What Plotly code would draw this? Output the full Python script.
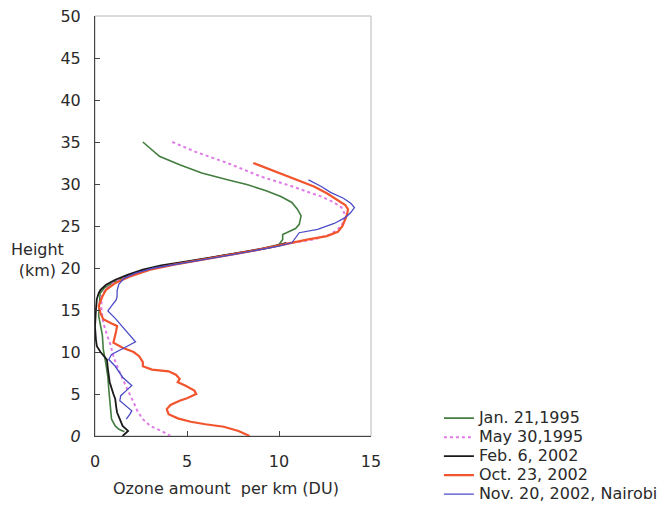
import plotly.graph_objects as go

# ---- data (ozone per km in DU, height in km) ----
jan1995_x = [2.6, 3.0, 3.5, 4.6, 5.8, 7.2, 8.3, 9.3, 10.1, 10.7, 11.0, 11.2, 11.1, 10.9, 10.5, 10.2, 10.2, 10.0,
             9.0, 7.8, 6.2, 4.6, 3.3, 2.3, 1.7, 1.0, 0.5, 0.28, 0.25, 0.2, 0.4, 0.45, 0.6, 0.7, 0.75, 0.8, 0.85,
             0.9, 1.1, 1.3, 1.6]
jan1995_h = [35.0, 34.2, 33.3, 32.3, 31.3, 30.5, 29.9, 29.2, 28.5, 27.8, 27.0, 26.2, 25.2, 24.7, 24.3, 24.0, 23.4, 22.8,
             22.3, 21.8, 21.2, 20.6, 20.1, 19.5, 19.0, 18.3, 17.6, 17.0, 16.0, 14.3, 12.0, 10.3, 8.5, 7.0, 5.5, 4.0, 3.0,
             2.0, 1.2, 0.8, 0.5]

may1995_x = [4.2, 5.5, 7.2, 9.0, 10.6, 12.3, 13.0, 13.4, 13.6, 13.5, 13.2, 12.8, 11.9, 10.4, 9.1, 7.9, 6.3, 4.7,
             3.3, 2.2, 1.5, 1.0, 0.6, 0.35, 0.35, 0.45, 0.65, 0.8, 1.0, 1.2, 1.45, 1.75, 2.1, 2.3, 2.6, 3.0, 3.6, 4.1]
may1995_h = [35.0, 33.8, 32.5, 30.9, 29.8, 28.5, 27.8, 27.2, 26.3, 25.4, 24.6, 24.0, 23.4, 22.9, 22.3, 21.8, 21.2, 20.6,
             20.0, 19.4, 18.8, 18.2, 17.5, 16.6, 15.0, 13.5, 12.0, 11.2, 9.5, 8.3, 7.0, 5.6, 4.0, 3.0, 2.0, 1.2, 0.6, 0.0]

feb2002_x = [10.4, 9.6, 8.4, 6.8, 5.0, 3.6, 2.6, 1.8, 1.1, 0.6, 0.3, 0.2, 0.1, 0.05, 0.0, 0.05, 0.1, 0.3, 0.5,
             0.65, 0.7, 0.8, 1.0, 1.1, 1.15, 1.2, 1.35, 1.5, 1.8, 1.6, 1.5]
feb2002_h = [23.0, 22.5, 22.0, 21.4, 20.8, 20.3, 19.8, 19.2, 18.6, 18.0, 17.4, 17.0, 16.3, 15.0, 13.0, 11.5, 10.7, 10.0, 9.5,
             9.1, 8.0, 6.4, 5.0, 4.4, 3.5, 2.8, 2.0, 1.2, 0.6, 0.2, 0.0]

oct2002_x = [8.6, 9.8, 11.0, 11.9, 12.6, 13.2, 13.6, 13.75, 13.7, 13.6, 13.45, 13.2, 12.6, 11.6, 10.7, 10.0, 8.7, 7.4,
             5.8, 4.3, 3.0, 1.9, 1.1, 0.6, 0.4, 0.2, 0.3, 0.45, 0.9, 1.2, 1.15, 1.1, 1.0, 1.5, 2.1, 2.4, 2.6, 2.6,
             3.1, 4.0, 4.4, 4.6, 4.5, 4.9, 5.4, 5.5, 5.0, 4.6, 4.1, 3.9, 4.0, 4.5, 5.2, 6.0, 7.0, 7.8, 8.4]
oct2002_h = [32.5, 31.5, 30.5, 29.7, 28.9, 28.1, 27.5, 27.0, 26.4, 25.8, 25.0, 24.3, 23.8, 23.4, 23.0, 22.6, 22.1, 21.6,
             21.0, 20.4, 19.8, 19.0, 18.2, 17.4, 16.6, 15.5, 14.6, 13.9, 13.4, 13.1, 12.5, 11.9, 11.1, 10.5, 10.0, 9.5, 8.8, 8.3,
             7.9, 7.7, 7.3, 6.8, 6.4, 6.0, 5.4, 5.0, 4.5, 4.2, 3.7, 3.2, 2.6, 2.1, 1.7, 1.4, 1.1, 0.6, 0.0]

nov2002_x = [11.6, 12.3, 12.8, 13.5, 13.9, 14.1, 13.9, 13.6, 13.0, 12.1, 11.1, 10.9, 10.7, 10.0, 8.8, 7.5, 5.9, 4.5,
             3.2, 2.2, 1.6, 1.3, 1.2, 1.2, 1.15, 0.9, 0.7, 1.1, 1.5, 1.9, 2.2, 1.6, 0.9, 0.75, 1.1, 1.5, 1.8, 2.0,
             1.7, 1.4, 1.35, 1.7, 2.0, 1.9, 1.7]
nov2002_h = [30.5, 29.7, 29.0, 28.3, 27.7, 27.2, 26.6, 26.0, 25.3, 24.6, 24.2, 23.6, 23.0, 22.6, 22.1, 21.6, 21.0, 20.5,
             20.0, 19.4, 18.8, 18.1, 17.3, 16.6, 16.2, 15.5, 14.9, 14.0, 13.0, 12.0, 11.2, 10.5, 9.7, 9.1, 8.3, 7.0, 6.4, 6.0,
             5.4, 4.8, 4.2, 3.6, 3.0, 2.6, 2.0]

series_names = ["Jan. 21,1995", "May 30,1995", "Feb. 6, 2002", "Oct. 23, 2002", "Nov. 20, 2002, Nairobi"]

y_tickvals = [0, 5, 10, 15, 20, 25, 30, 35, 40, 45, 50]
y_ticktext = ["<i>0</i>", "5", "10", "15", "20", "25", "30", "35", "40", "45", "50"]
x_tickvals = [0, 5, 10, 15]
x_ticktext = ["0", "5", "10", "15"]

FONT = "DejaVu Sans, Liberation Sans, Arial, sans-serif"
TXT = "#2a2a2a"

styles = [
    dict(color="#437d3f", width=1.6, dash="solid"),
    dict(color="#e07ae6", width=2.0, dash="dot"),
    dict(color="#1a1a1a", width=1.8, dash="solid"),
    dict(color="#f2542d", width=2.2, dash="solid"),
    dict(color="#4b4bc8", width=1.3, dash="solid"),
]
xs = [jan1995_x, may1995_x, feb2002_x, oct2002_x, nov2002_x]
hs = [jan1995_h, may1995_h, feb2002_h, oct2002_h, nov2002_h]

fig = go.Figure()
for name, x, h, st in zip(series_names, xs, hs, styles):
    fig.add_trace(go.Scatter(x=x, y=h, mode="lines",
                             name='<span style="font-size:16px">' + name + '</span>', line=st))

fig.update_layout(
    width=666, height=513,
    margin=dict(l=95, r=295, t=16, b=77, autoexpand=False),
    paper_bgcolor="white", plot_bgcolor="white",
    font=dict(family=FONT, size=16, color=TXT),
    showlegend=True,
    legend=dict(x=1.246, xanchor="left", y=0.077, yanchor="top",
                font=dict(family=FONT, size=12, color=TXT),
                tracegroupgap=0, itemwidth=30, bgcolor="rgba(0,0,0,0)",
                traceorder="normal"),
)

fig.update_xaxes(range=[0, 15], tickvals=x_tickvals, ticktext=x_ticktext,
                 showgrid=False, zeroline=False, showline=True, linecolor="#444", linewidth=1,
                 ticks="inside", ticklen=5, tickcolor="#444", ticklabelstandoff=11,
                 tickfont=dict(family=FONT, size=16, color=TXT))
fig.update_yaxes(range=[0, 50], tickvals=y_tickvals, ticktext=y_ticktext,
                 showgrid=False, zeroline=False, showline=True, linecolor="#444", linewidth=1,
                 ticks="inside", ticklen=5, tickcolor="#444", ticklabelstandoff=10,
                 tickfont=dict(family=FONT, size=16, color=TXT))

# light top/right frame
fig.add_shape(type="rect", xref="paper", yref="paper", x0=0, x1=1, y0=0, y1=1,
              line=dict(color="#b8b8b8", width=1), layer="below")

fig.add_annotation(text="Ozone amount  per km (DU)", xref="paper", yref="paper",
                   x=0.475, y=-0.125, xanchor="center", yanchor="middle", showarrow=False,
                   font=dict(family=FONT, size=16, color=TXT))
fig.add_annotation(text="Height<br>(km)", xref="paper", yref="y", x=-0.21, y=20.9,
                   xanchor="center", yanchor="middle", showarrow=False, align="center",
                   font=dict(family=FONT, size=16, color=TXT))

fig.write_html("out.html")
